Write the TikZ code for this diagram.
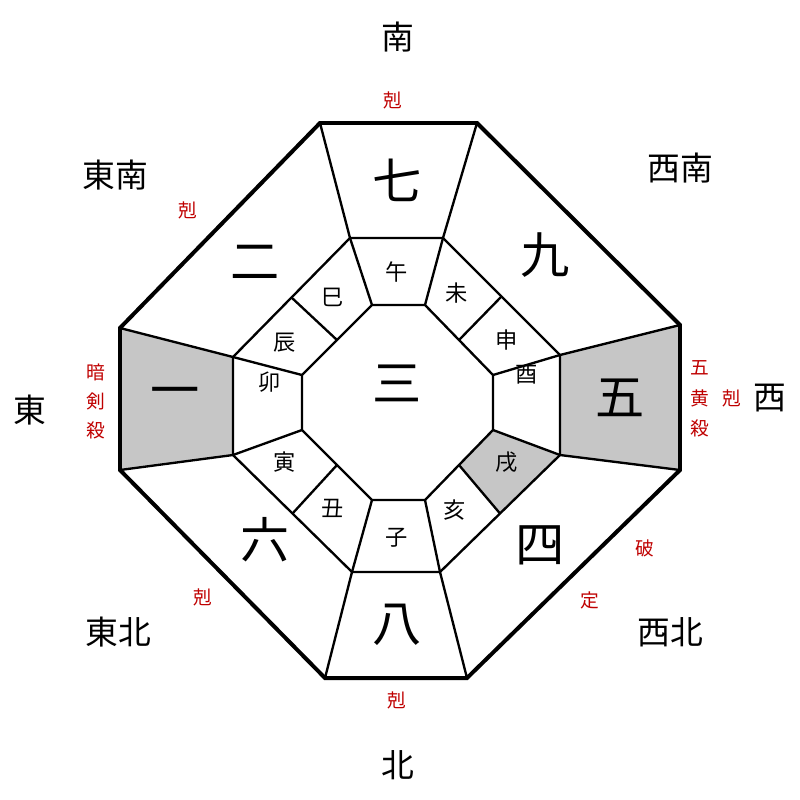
\documentclass[tikz,border=0pt]{standalone}
\usepackage{fontspec}
\usetikzlibrary{calc}
\newfontfamily\jp{Noto Sans CJK JP}
\begin{document}
\begin{tikzpicture}[x=0.03cm,y=-0.03cm,
  big/.style={font=\jp\fontsize{42}{42}\selectfont},
  zod/.style={font=\jp\fontsize{19}{19}\selectfont},
  dir/.style={font=\jp\fontsize{28}{28}\selectfont},
  red/.style={font=\jp\fontsize{16}{16}\selectfont,text=red!75!black},
  thick line/.style={line width=3.4pt,line join=miter},
  thin line/.style={line width=2pt}]
\useasboundingbox (0,0) rectangle (800,800);
\coordinate (o1) at (320,123);\coordinate (o2) at (477,123);
\coordinate (o3) at (680,325);\coordinate (o4) at (680,470);
\coordinate (o5) at (467,678);\coordinate (o6) at (325,678);
\coordinate (o7) at (120,470);\coordinate (o8) at (120,328);
\coordinate (m1) at (350,238);\coordinate (m2) at (443,238);
\coordinate (m3) at (560,355);\coordinate (m4) at (560,455);
\coordinate (m5) at (440,572);\coordinate (m6) at (352,572);
\coordinate (m7) at (233,455);\coordinate (m8) at (233,357);
\coordinate (i1) at (372,305);\coordinate (i2) at (425,305);
\coordinate (i3) at (493,375);\coordinate (i4) at (493,430);
\coordinate (i5) at (425,500);\coordinate (i6) at (372,500);
\coordinate (i7) at (302,430);\coordinate (i8) at (302,375);
\fill[gray!45] (o7)--(o8)--(m8)--(m7)--cycle;
\fill[gray!45] (o3)--(o4)--(m4)--(m3)--cycle;
\fill[gray!45] (m4)--($(m4)!0.5!(m5)$)--($(i4)!0.5!(i5)$)--(i4)--cycle;
\draw[thin line] (m1)--(m2)--(m3)--(m4)--(m5)--(m6)--(m7)--(m8)--cycle;
\draw[thin line] (i1)--(i2)--(i3)--(i4)--(i5)--(i6)--(i7)--(i8)--cycle;
\foreach \k in {1,...,8}{\draw[thin line] (o\k)--(m\k); \draw[thin line] (m\k)--(i\k);}
\draw[thin line] ($(m2)!0.5!(m3)$)--($(i2)!0.5!(i3)$);
\draw[thin line] ($(m4)!0.5!(m5)$)--($(i4)!0.5!(i5)$);
\draw[thin line] ($(m6)!0.5!(m7)$)--($(i6)!0.5!(i7)$);
\draw[thin line] ($(m8)!0.5!(m1)$)--($(i8)!0.5!(i1)$);
\draw[thick line] (o1)--(o2)--(o3)--(o4)--(o5)--(o6)--(o7)--(o8)--cycle;
\node[big] (n7) at (397,180) {七};
\node[big] (n9) at (545,255) {九};
\node[big] (n5) at (620,398) {五};
\node[big] (n4) at (540,545) {四};
\node[big] (n8) at (397,625) {八};
\node[big] (n6) at (265,540) {六};
\node[big] (n1) at (175,398) {一};
\node[big] (n2) at (255,262) {二};
\node[big] (n3) at (397,383) {三};
\node[zod] (z1) at (397,272) {午};
\node[zod] (z2) at (457,293) {未};
\node[zod] (z3) at (507,340) {申};
\node[zod] (z4) at (527,375) {酉};
\node[zod] (z5) at (507,462) {戌};
\node[zod] (z6) at (455,510) {亥};
\node[zod] (z7) at (397,538) {子};
\node[zod] (z8) at (333,508) {丑};
\node[zod] (z9) at (285,462) {寅};
\node[zod] (z10) at (270,382) {卯};
\node[zod] (z11) at (285,343) {辰};
\node[zod] (z12) at (333,297) {巳};
\node[dir] (d1) at (398,37) {南};
\node[dir] (d2) at (680,168) {西南};
\node[dir] (d3) at (770,398) {西};
\node[dir] (d4) at (670,632) {西北};
\node[dir] (d5) at (398,765) {北};
\node[dir] (d6) at (118,632) {東北};
\node[dir] (d7) at (30,410) {東};
\node[dir] (d8) at (115,175) {東南};
\node[red] (r1) at (393,100) {剋};
\node[red] (r2) at (188,210) {剋};
\node[red] (r3a) at (96,372) {暗};
\node[red] (r3b) at (96,401) {剣};
\node[red] (r3c) at (96,430) {殺};
\node[red] (r4a) at (700,368) {五};
\node[red] (r4b) at (700,398) {黄};
\node[red] (r4c) at (700,428) {殺};
\node[red] (r5) at (732,398) {剋};
\node[red] (r6) at (645,548) {破};
\node[red] (r7) at (590,600) {定};
\node[red] (r8) at (203,597) {剋};
\node[red] (r9) at (397,700) {剋};
\end{tikzpicture}
\end{document}
